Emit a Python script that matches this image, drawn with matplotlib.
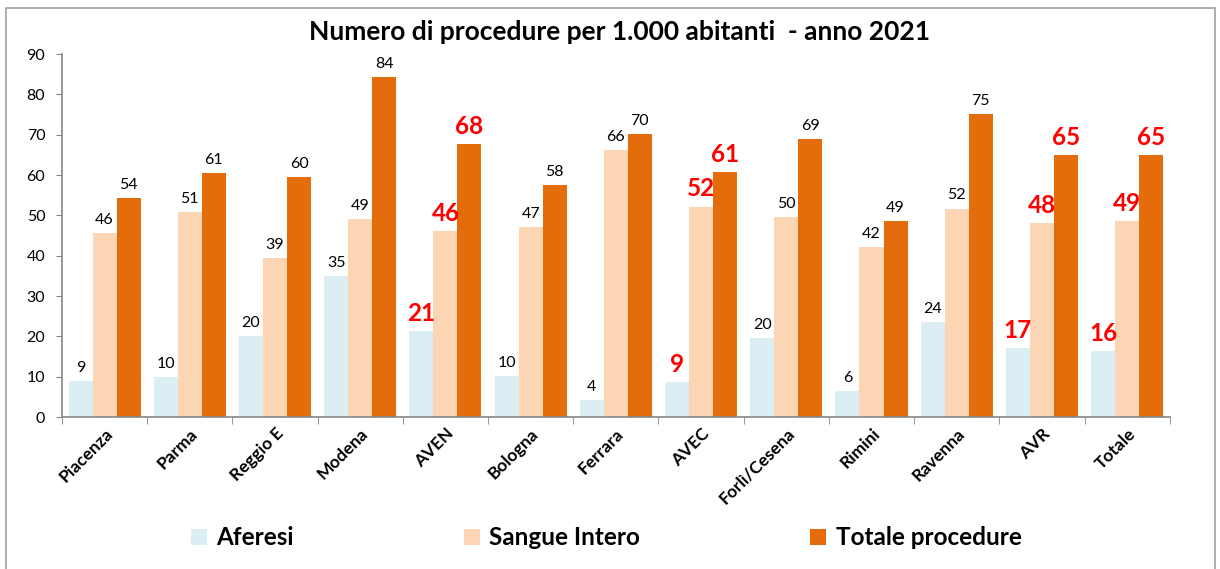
import numpy as np
import matplotlib.pyplot as plt
from matplotlib.patches import Rectangle

plt.rcParams['font.family'] = ['Lato', 'DejaVu Sans']

# data
aree = ['Piacenza', 'Parma', 'Reggio E', 'Modena', 'AVEN', 'Bologna', 'Ferrara',
        'AVEC', 'Forlì/Cesena', 'Rimini', 'Ravenna', 'AVR', 'Totale']
aferesi = [8.9, 9.9, 20.2, 34.9, 21.3, 10.2, 4.3, 8.7, 19.6, 6.4, 23.6, 17.1, 16.4]
sangue_intero = [45.7, 50.8, 39.4, 49.0, 46.1, 47.1, 66.1, 52.2, 49.6, 42.2, 51.7, 48.0, 48.6]
totale_proc = [54.2, 60.6, 59.6, 84.2, 67.8, 57.6, 70.2, 60.8, 69.0, 48.6, 75.2, 65.0, 65.0]
evidenziati = ['AVEN', 'AVEC', 'AVR', 'Totale']

serie = [('Aferesi', aferesi, '#DAEEF3'),
         ('Sangue Intero', sangue_intero, '#FCD5B5'),
         ('Totale procedure', totale_proc, '#E46C0A')]

fig = plt.figure(figsize=(12.2, 5.69), dpi=100)
ax = fig.add_axes([0.0508, 0.267, 0.908, 0.638])

x = np.arange(len(aree))
w = 0.282
for i, (nome, vals, col) in enumerate(serie):
    pos = x + (i - 1) * w
    ax.bar(pos, vals, width=w, color=col, label=nome, zorder=2)
    for p, v, a in zip(pos, vals, aree):
        if a in evidenziati:
            ax.text(p, v + 1.5, '%.0f' % v, ha='center', va='bottom',
                    fontsize=17.5, fontweight='bold', color='#FF0000')
        else:
            ax.text(p, v + 1.5, '%.0f' % v, ha='center', va='bottom',
                    fontsize=11.5, color='black')

ax.set_xlim(-0.5, len(aree) - 0.5)
ax.set_ylim(0, 90)
ax.set_yticks(range(0, 91, 10))
ax.tick_params(axis='y', labelsize=11.5, length=4, color='#868686', pad=8)

ax.set_xticks(x)
ax.set_xticklabels(aree, rotation=45, ha='right', rotation_mode='anchor',
                   fontsize=12.5, fontweight='bold')
ax.tick_params(axis='x', which='major', length=0, pad=6)
ax.set_xticks(np.arange(-0.5, len(aree), 1), minor=True)
ax.tick_params(axis='x', which='minor', length=5, color='#868686')

for s in ['top', 'right']:
    ax.spines[s].set_visible(False)
for s in ['left', 'bottom']:
    ax.spines[s].set_color('#868686')
    ax.spines[s].set_linewidth(1.2)

fig.text(0.508, 0.944, 'Numero di procedure per 1.000 abitanti  - anno 2021',
         ha='center', va='center', fontsize=19, fontweight='bold')

fig.legend(loc='center', bbox_to_anchor=(0.497, 0.055), ncol=3, frameon=False,
           prop={'size': 17.5, 'weight': 'bold'}, handlelength=0.65, handleheight=0.65,
           handletextpad=0.4, columnspacing=7.0)

fig.patches.append(Rectangle((6 / 1220, -0.02), 1209 / 1220, 1.02 - 8 / 569,
                             transform=fig.transFigure, fill=False,
                             edgecolor='#A0A0A0', linewidth=1.2))

fig.savefig('out.png', dpi=100, facecolor='white')
